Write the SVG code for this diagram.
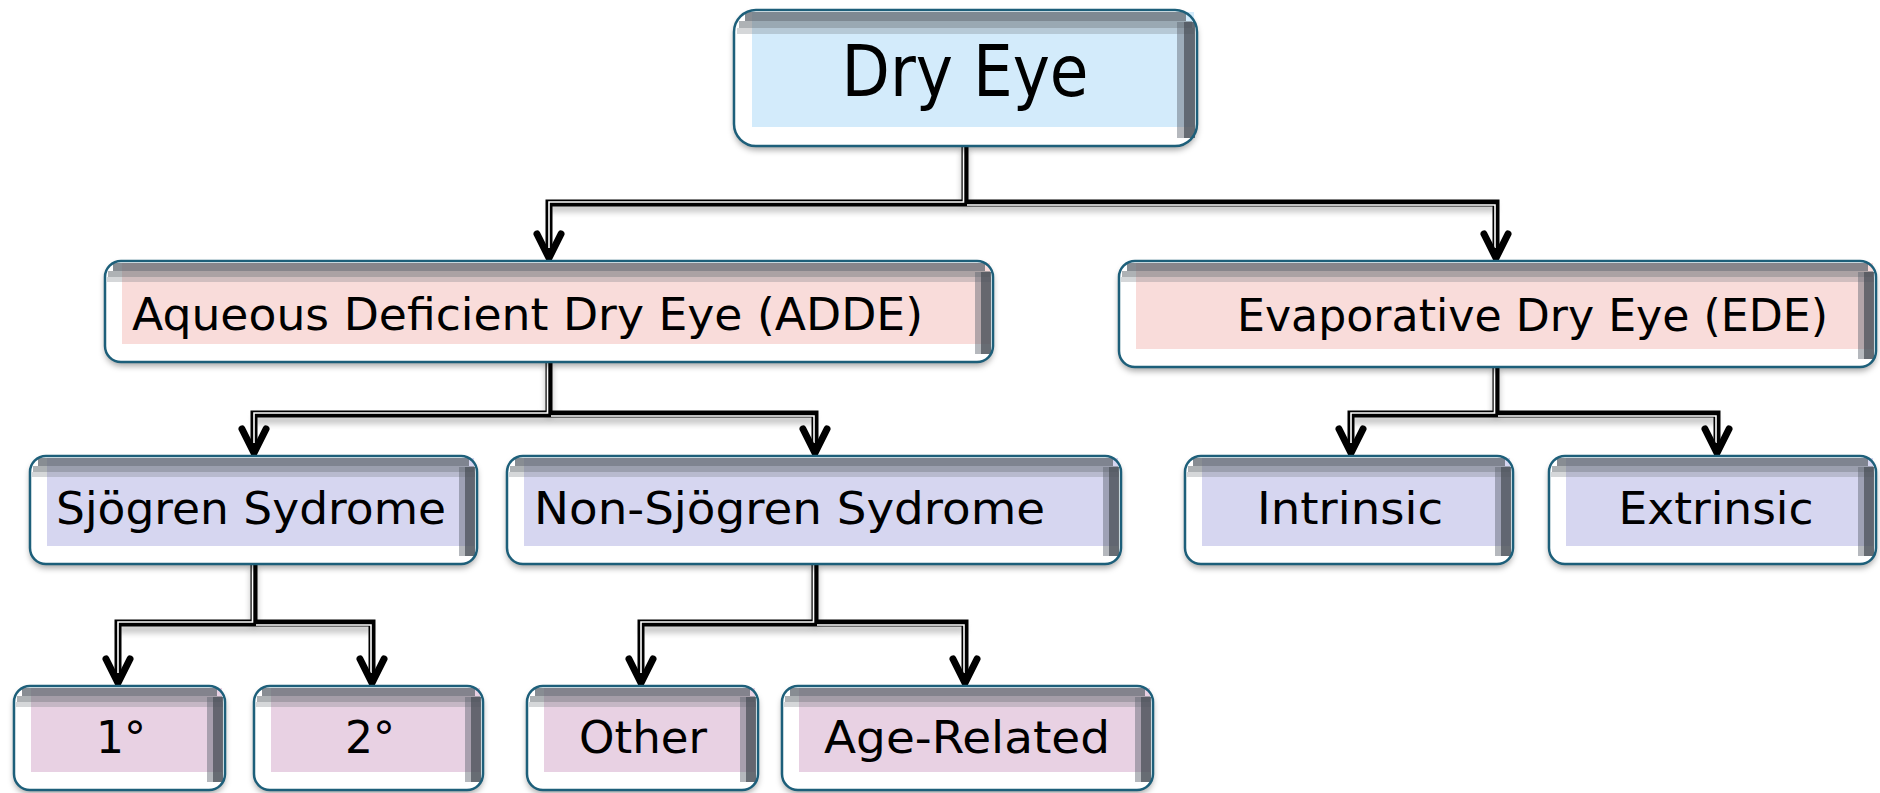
<svg xmlns="http://www.w3.org/2000/svg" width="1880" height="793" viewBox="0 0 1880 793">
<defs>
<filter id="shadow" x="-5%" y="-10%" width="110%" height="130%">
<feDropShadow dx="0" dy="4" stdDeviation="3" flood-color="#000" flood-opacity="0.35"/>
</filter>
<filter id="cshadow" x="-5%" y="-20%" width="110%" height="160%">
<feGaussianBlur stdDeviation="3"/>
</filter>
</defs>
<style>
.outer{fill:#ffffff;stroke:none;filter:url(#shadow)}
.border{fill:none;stroke:#1d5f7a;stroke-width:2.5}
.s1{fill:#666d74;fill-opacity:0.78}
.s2{fill:#6b7279;fill-opacity:0.55}
.s3{fill:#737a80;fill-opacity:0.3}
.r1{fill:#5c626c;fill-opacity:0.45}
.r2{fill:#4c525a;fill-opacity:0.85}
.t{font-family:"DejaVu Sans","Liberation Sans",sans-serif;fill:#000;font-size:44px}
.big{font-size:72px}
.c-blue{fill:#d3ebfb}
.c-pink{fill:#f9dcda}
.c-lav{fill:#d6d6f0}
.c-mauve{fill:#e8d1e3}
.cs{fill:none;stroke:#888;stroke-width:7;opacity:0.55;filter:url(#cshadow)}
.cb{fill:none;stroke:#000;stroke-width:7;stroke-linejoin:miter}
.cw{fill:none;stroke:#fff;stroke-width:1.6}
.ah{fill:none;stroke:#000;stroke-width:7;stroke-linejoin:miter;stroke-linecap:round}
</style>

<g id="connectors">
<g class="shadows">
<path class="cs" d="M965,150 V208 H549 M965,208 H1496"/>
<path class="cs" d="M549,366 V420 H254 M549,420 H815"/>
<path class="cs" d="M1496,371 V420 H1351 M1496,420 H1717"/>
<path class="cs" d="M254,568 V629 H118 M254,629 H372"/>
<path class="cs" d="M815,568 V629 H641 M815,629 H965"/>
</g>
<path class="cb" d="M965,146 V203 H549 V252 M965,203 H1496 V252"/>
<path class="cw" d="M963.5,146 V202 H549 V248 M967,205 H1495 V248"/>
<path class="ah" d="M537,234 L549,258 L561,234 M1484,234 L1496,258 L1508,234"/>

<path class="cb" d="M549,362 V414 H254 V447 M549,414 H815 V447"/>
<path class="cw" d="M547.5,362 V413 H254 V443 M551,416 H814 V443"/>
<path class="ah" d="M242,429 L254,453 L266,429 M803,429 L815,453 L827,429"/>

<path class="cb" d="M1496,367 V414 H1351 V447 M1496,414 H1717 V447"/>
<path class="cw" d="M1494.5,367 V413 H1351 V443 M1498,416 H1716 V443"/>
<path class="ah" d="M1339,429 L1351,453 L1363,429 M1705,429 L1717,453 L1729,429"/>

<path class="cb" d="M254,564 V623 H118 V677 M254,623 H372 V677"/>
<path class="cw" d="M252.5,564 V622 H118 V673 M256,625 H371 V673"/>
<path class="ah" d="M106,659 L118,683 L130,659 M360,659 L372,683 L384,659"/>

<path class="cb" d="M815,564 V623 H641 V677 M815,623 H965 V677"/>
<path class="cw" d="M813.5,564 V622 H641 V673 M817,625 H964 V673"/>
<path class="ah" d="M629,659 L641,683 L653,659 M953,659 L965,683 L977,659"/>
</g>

<g id="dry-eye">
<rect class="outer" x="734" y="10" width="463" height="136" rx="22"/>
<rect class="c-blue" x="752" y="12" width="442" height="115"/>
<rect class="s1" x="745" y="12" width="441" height="9"/>
<rect class="s2" x="739" y="21" width="453" height="7"/>
<rect class="s3" x="737" y="28" width="457" height="6"/>
<rect class="r1" x="1177" y="22" width="7" height="116"/>
<rect class="r2" x="1184" y="22" width="11" height="116"/>
<rect class="border" x="734" y="10" width="463" height="136" rx="22"/>
<text class="t big" x="965" y="96" text-anchor="middle" textLength="247" lengthAdjust="spacingAndGlyphs">Dry Eye</text>
</g>

<g id="adde">
<rect class="outer" x="105" y="261" width="888" height="101" rx="16"/>
<rect class="c-pink" x="122" y="263" width="868" height="81"/>
<rect class="s1" x="113" y="263" width="872" height="8"/>
<rect class="s2" x="108" y="271" width="882" height="6"/>
<rect class="s3" x="107" y="277" width="884" height="5"/>
<rect class="r1" x="975" y="272" width="6" height="82"/>
<rect class="r2" x="981" y="272" width="10" height="82"/>
<rect class="border" x="105" y="261" width="888" height="101" rx="16"/>
<text class="t" x="132" y="330" textLength="791" lengthAdjust="spacingAndGlyphs">Aqueous Deficient Dry Eye (ADDE)</text>
</g>

<g id="ede">
<rect class="outer" x="1119" y="261" width="757" height="106" rx="16"/>
<rect class="c-pink" x="1136" y="263" width="737" height="86"/>
<rect class="s1" x="1127" y="263" width="741" height="8"/>
<rect class="s2" x="1122" y="271" width="751" height="6"/>
<rect class="s3" x="1121" y="277" width="753" height="5"/>
<rect class="r1" x="1858" y="272" width="6" height="87"/>
<rect class="r2" x="1864" y="272" width="10" height="87"/>
<rect class="border" x="1119" y="261" width="757" height="106" rx="16"/>
<text class="t" x="1237" y="331" textLength="591" lengthAdjust="spacingAndGlyphs">Evaporative Dry Eye (EDE)</text>
</g>

<g id="sjogren">
<rect class="outer" x="30" y="456" width="447" height="108" rx="16"/>
<rect class="c-lav" x="47" y="458" width="427" height="88"/>
<rect class="s1" x="38" y="458" width="431" height="8"/>
<rect class="s2" x="33" y="466" width="441" height="6"/>
<rect class="s3" x="32" y="472" width="443" height="5"/>
<rect class="r1" x="459" y="467" width="6" height="89"/>
<rect class="r2" x="465" y="467" width="10" height="89"/>
<rect class="border" x="30" y="456" width="447" height="108" rx="16"/>
<text class="t" x="56" y="524" textLength="390" lengthAdjust="spacingAndGlyphs">Sjögren Sydrome</text>
</g>

<g id="non-sjogren">
<rect class="outer" x="507" y="456" width="614" height="108" rx="16"/>
<rect class="c-lav" x="524" y="458" width="594" height="88"/>
<rect class="s1" x="515" y="458" width="598" height="8"/>
<rect class="s2" x="510" y="466" width="608" height="6"/>
<rect class="s3" x="509" y="472" width="610" height="5"/>
<rect class="r1" x="1103" y="467" width="6" height="89"/>
<rect class="r2" x="1109" y="467" width="10" height="89"/>
<rect class="border" x="507" y="456" width="614" height="108" rx="16"/>
<text class="t" x="534" y="524" textLength="511" lengthAdjust="spacingAndGlyphs">Non-Sjögren Sydrome</text>
</g>

<g id="intrinsic">
<rect class="outer" x="1185" y="456" width="328" height="108" rx="16"/>
<rect class="c-lav" x="1202" y="458" width="308" height="88"/>
<rect class="s1" x="1193" y="458" width="312" height="8"/>
<rect class="s2" x="1188" y="466" width="322" height="6"/>
<rect class="s3" x="1187" y="472" width="324" height="5"/>
<rect class="r1" x="1495" y="467" width="6" height="89"/>
<rect class="r2" x="1501" y="467" width="10" height="89"/>
<rect class="border" x="1185" y="456" width="328" height="108" rx="16"/>
<text class="t" x="1350" y="524" text-anchor="middle" textLength="186" lengthAdjust="spacingAndGlyphs">Intrinsic</text>
</g>

<g id="extrinsic">
<rect class="outer" x="1549" y="456" width="327" height="108" rx="16"/>
<rect class="c-lav" x="1566" y="458" width="307" height="88"/>
<rect class="s1" x="1557" y="458" width="311" height="8"/>
<rect class="s2" x="1552" y="466" width="321" height="6"/>
<rect class="s3" x="1551" y="472" width="323" height="5"/>
<rect class="r1" x="1858" y="467" width="6" height="89"/>
<rect class="r2" x="1864" y="467" width="10" height="89"/>
<rect class="border" x="1549" y="456" width="327" height="108" rx="16"/>
<text class="t" x="1716" y="524" text-anchor="middle" textLength="195" lengthAdjust="spacingAndGlyphs">Extrinsic</text>
</g>

<g id="primary">
<rect class="outer" x="14" y="686" width="211" height="104" rx="16"/>
<rect class="c-mauve" x="31" y="688" width="191" height="84"/>
<rect class="s1" x="22" y="688" width="195" height="8"/>
<rect class="s2" x="17" y="696" width="205" height="6"/>
<rect class="s3" x="16" y="702" width="207" height="5"/>
<rect class="r1" x="207" y="697" width="6" height="85"/>
<rect class="r2" x="213" y="697" width="10" height="85"/>
<rect class="border" x="14" y="686" width="211" height="104" rx="16"/>
<text class="t" x="121" y="753" text-anchor="middle">1°</text>
</g>

<g id="secondary">
<rect class="outer" x="254" y="686" width="229" height="104" rx="16"/>
<rect class="c-mauve" x="271" y="688" width="209" height="84"/>
<rect class="s1" x="262" y="688" width="213" height="8"/>
<rect class="s2" x="257" y="696" width="223" height="6"/>
<rect class="s3" x="256" y="702" width="225" height="5"/>
<rect class="r1" x="465" y="697" width="6" height="85"/>
<rect class="r2" x="471" y="697" width="10" height="85"/>
<rect class="border" x="254" y="686" width="229" height="104" rx="16"/>
<text class="t" x="370" y="753" text-anchor="middle">2°</text>
</g>

<g id="other">
<rect class="outer" x="527" y="686" width="231" height="104" rx="16"/>
<rect class="c-mauve" x="544" y="688" width="211" height="84"/>
<rect class="s1" x="535" y="688" width="215" height="8"/>
<rect class="s2" x="530" y="696" width="225" height="6"/>
<rect class="s3" x="529" y="702" width="227" height="5"/>
<rect class="r1" x="740" y="697" width="6" height="85"/>
<rect class="r2" x="746" y="697" width="10" height="85"/>
<rect class="border" x="527" y="686" width="231" height="104" rx="16"/>
<text class="t" x="643" y="753" text-anchor="middle" textLength="128" lengthAdjust="spacingAndGlyphs">Other</text>
</g>

<g id="age-related">
<rect class="outer" x="782" y="686" width="371" height="104" rx="16"/>
<rect class="c-mauve" x="799" y="688" width="351" height="84"/>
<rect class="s1" x="790" y="688" width="355" height="8"/>
<rect class="s2" x="785" y="696" width="365" height="6"/>
<rect class="s3" x="784" y="702" width="367" height="5"/>
<rect class="r1" x="1135" y="697" width="6" height="85"/>
<rect class="r2" x="1141" y="697" width="10" height="85"/>
<rect class="border" x="782" y="686" width="371" height="104" rx="16"/>
<text class="t" x="967" y="753" text-anchor="middle" textLength="286" lengthAdjust="spacingAndGlyphs">Age-Related</text>
</g>
</svg>
